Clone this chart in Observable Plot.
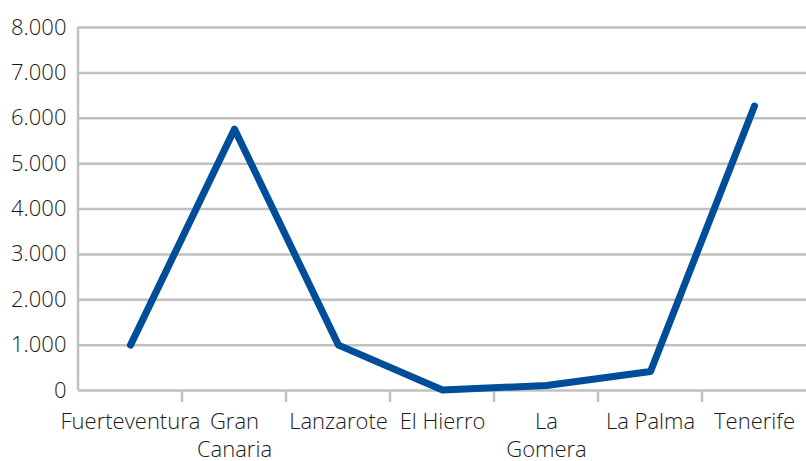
<!DOCTYPE html>
<html><head><meta charset="utf-8">
<script src="https://cdn.jsdelivr.net/npm/d3@7"></script>
<script src="https://cdn.jsdelivr.net/npm/@observablehq/plot@0.6"></script>
<style>body{margin:0;background:#fff}</style>
</head><body><div id="chart"></div>
<script>
const islands = ["Fuerteventura","Gran Canaria","Lanzarote","El Hierro","La Gomera","La Palma","Tenerife"];
const islandLabels = ["Fuerteventura","Gran\nCanaria","Lanzarote","El Hierro","La\nGomera","La Palma","Tenerife"];
const values = [1000,5760,1000,10,110,420,6270];
const yTicks = [0,1000,2000,3000,4000,5000,6000,7000,8000];

const data = islands.map((island,i)=>({island, value: values[i]}));
const fmt = d3.formatLocale({decimal:",",thousands:".",grouping:[3],currency:["","€"]}).format(",");
const gray = "#c0c0c0";
const chart = Plot.plot({
  width:806, height:461, marginLeft:78, marginRight:0, marginTop:27, marginBottom:71,
  style:{fontFamily:"'Open Sans', sans-serif", fontSize:"22px", fontWeight:300, color:"#1a1a1a", background:"#fff", overflow:"visible"},
  x:{type:"band", domain: islands, padding:0},
  y:{domain:[0,8000]},
  marks:[
    Plot.gridY(yTicks,{stroke:gray, strokeOpacity:1, strokeWidth:2.5}),
    Plot.axisY(yTicks,{tickSize:0, tickPadding:12, tickFormat: fmt, label:null}),
    Plot.axisX({tickSize:0, tickPadding:19, tickFormat: d => islandLabels[islands.indexOf(d)], label:null, lineHeight:1.27}),
    Plot.line(data,{x:"island", y:"value", stroke:"#004e9a", strokeWidth:7, strokeLinejoin:"round", strokeLinecap:"round"})
  ]
});
document.getElementById("chart").appendChild(chart);
const svg = d3.select(chart);
const xs = chart.scale("x"), ys = chart.scale("y");
const y0 = ys.apply(0), yTop = ys.apply(8000);
const g = svg.append("g").attr("stroke", gray).attr("stroke-width", 2.5);
g.lower();
g.append("line").attr("x1", xs.range[0]).attr("x2", xs.range[0]).attr("y1", yTop).attr("y2", y0);
islands.slice(1).forEach(d => {
  const x = xs.apply(d);
  g.append("line").attr("x1", x).attr("x2", x).attr("y1", y0).attr("y2", y0 + 12);
});
</script>
</body></html>
